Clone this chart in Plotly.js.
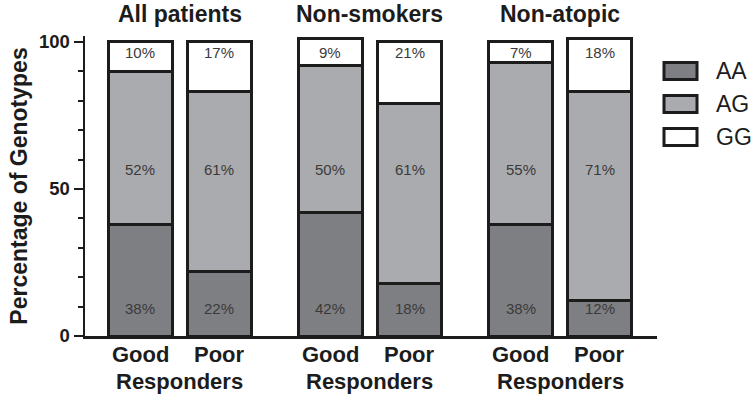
<!DOCTYPE html>
<html>
<head>
<meta charset="utf-8">
<script src="https://cdn.plot.ly/plotly-3.0.1.min.js"></script>
<style>html,body{margin:0;padding:0;background:#fff;}#chart{width:756px;height:400px;}</style>
</head>
<body>
<div id="chart"></div>
<script>
// ---- data ----
const groups = ["All patients", "Non-smokers", "Non-atopic"];
const responders = ["Good", "Poor"];
const genotypes = ["AA", "AG", "GG"];
const AA = [38, 22, 42, 18, 38, 12];
const AG = [52, 61, 50, 61, 55, 71];
const GG = [10, 17, 9, 21, 7, 18];
const xLabelLine2 = "Responders";
const yTitle = "Percentage of Genotypes";

// ---- styling ----
const FONT = "Liberation Sans, Arial, Helvetica, sans-serif";
const INK = "#1c1c1c";
const colors = {AA: "#7e7f82", AG: "#aaabaf", GG: "#ffffff"};
const series = {AA: AA, AG: AG, GG: GG};
const labelY = {AA: 9.2, AG: 56.5, GG: 96.4};

const W = 756, H = 400;
const M = {l: 85, r: 99, t: 36, b: 64};
const PW = W - M.l - M.r, PH = H - M.t - M.b;
const px2x = p => (p - M.l) / PW;
const px2y = p => (H - M.b - p) / PH;

// bar positions (group gap wider than the within-pair gap)
const nBars = AA.length;
const xpos = [];
const xtext = [];
for (let i = 0; i < nBars; i++) {
  xpos.push(Math.floor(i / 2) * 2.4 + (i % 2));
  xtext.push(responders[i % 2]);
}

const traces = genotypes.map(g => ({
  type: "bar",
  name: g,
  x: xpos,
  y: series[g],
  width: 0.81,
  marker: {color: colors[g], line: {color: INK, width: 3}},
  hoverinfo: "skip",
  showlegend: false
}));

const annotations = [];
const boldFont = {family: FONT, size: 22, color: INK, weight: "bold"};
// value labels
genotypes.forEach(g => {
  series[g].forEach((v, i) => {
    annotations.push({
      xref: "x", yref: "y", x: xpos[i], y: labelY[g],
      text: v + "%", showarrow: false, xanchor: "center", yanchor: "middle",
      font: {family: FONT, size: 15, color: "#3a3a3a"}
    });
  });
});
// first line of x labels (Good / Poor)
xpos.forEach((x, i) => {
  annotations.push({
    xref: "x", yref: "paper", x: x, y: px2y(354),
    text: xtext[i], showarrow: false, xanchor: "center", yanchor: "middle",
    borderpad: 0, font: boldFont
  });
});
// group titles and second line of the x labels
groups.forEach((name, k) => {
  const mid = (xpos[2 * k] + xpos[2 * k + 1]) / 2;
  annotations.push({
    xref: "x", yref: "paper", x: mid, y: px2y(14),
    text: name, showarrow: false, xanchor: "center", yanchor: "middle",
    font: {family: FONT, size: 23, color: INK, weight: "bold"}
  });
  annotations.push({
    xref: "x", yref: "paper", x: mid, y: px2y(381),
    text: xLabelLine2, showarrow: false, xanchor: "center", yanchor: "middle",
    borderpad: 0, font: boldFont
  });
});

// custom legend
const shapes = [];
const legendY = [71, 104, 137];
genotypes.forEach((g, k) => {
  shapes.push({
    type: "rect", xref: "paper", yref: "paper",
    x0: px2x(664), x1: px2x(697),
    y0: px2y(legendY[k] - 8.5), y1: px2y(legendY[k] + 8.5),
    fillcolor: colors[g], line: {color: INK, width: 3}, layer: "above"
  });
  annotations.push({
    xref: "paper", yref: "paper", x: px2x(714), y: px2y(legendY[k]),
    text: g, showarrow: false, xanchor: "left", yanchor: "middle",
    font: {family: FONT, size: 23, color: INK}
  });
});

const layout = {
  width: W, height: H,
  margin: M,
  paper_bgcolor: "#fff", plot_bgcolor: "#fff",
  barmode: "stack",
  bargap: 0,
  font: {family: FONT, color: INK},
  xaxis: {
    range: [-0.696, 6.522],
    showticklabels: false,
    ticks: "", showline: true, linecolor: INK, linewidth: 2.5,
    showgrid: false, zeroline: false, fixedrange: true
  },
  yaxis: {
    range: [0, 102],
    tickmode: "linear", tick0: 0, dtick: 50,
    ticks: "outside", ticklen: 9, tickwidth: 2.5, tickcolor: INK,
    minor: {tickmode: "linear", tick0: 0, dtick: 10, ticks: "outside", ticklen: 5, tickwidth: 2, tickcolor: INK},
    showline: true, linecolor: INK, linewidth: 2.5,
    showgrid: false, zeroline: false, fixedrange: true,
    tickfont: {family: FONT, size: 18.5, color: INK, weight: "bold"},
    title: {text: yTitle, font: {family: FONT, size: 23, color: INK, weight: "bold"}, standoff: 5}
  },
  annotations: annotations,
  shapes: shapes
};

Plotly.newPlot("chart", traces, layout, {displayModeBar: false, staticPlot: true});
</script>
</body>
</html>
